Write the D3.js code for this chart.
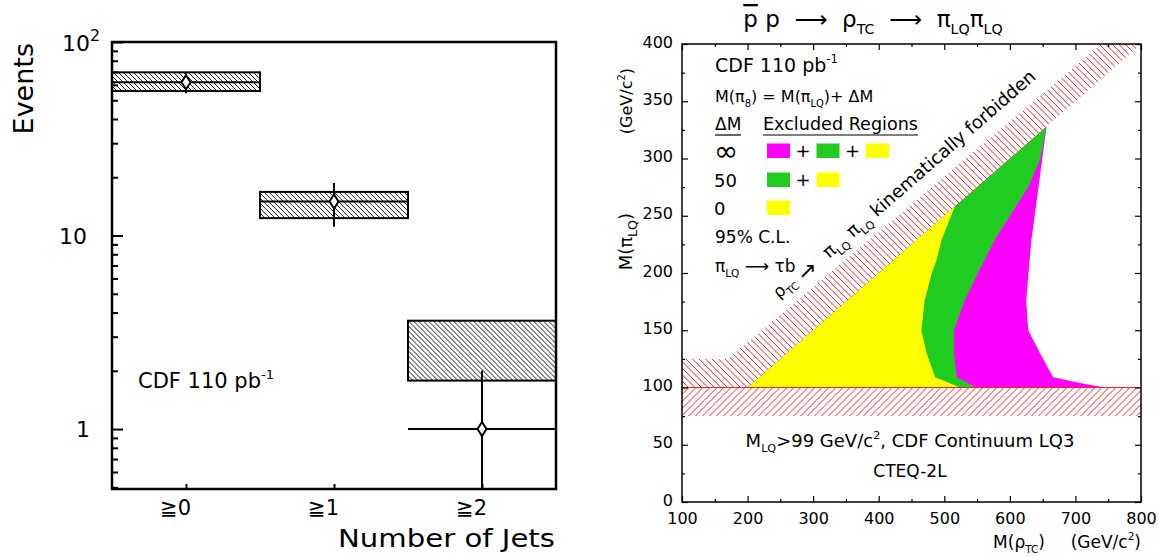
<!DOCTYPE html>
<html lang="en">
<head>
<meta charset="utf-8">
<title>CDF jets and technicolor exclusion</title>
<script src="https://d3js.org/d3.v7.min.js"></script>
<style>
  body { margin: 0; background: #fff; }
  svg text { font-family: "DejaVu Sans", "Noto Sans", sans-serif; fill: #000; white-space: pre; }
</style>
</head>
<body>
<script>
// ---- left panel data: events vs number of jets ----
var jetLabels = ["≧0", "≧1", "≧2"];
var predLow  = [55.8, 12.3, 1.78];   // hatched band (expectation)
var predHigh = [69.7, 16.8, 3.63];
var dataVal  = [62, 15, 1];          // observed points
var dataLow  = [54.3, 11.1, 0.3];
var dataHigh = [69, 18.7, 2.0];

// ---- right panel data: excluded regions in M(rho_TC) vs M(pi_LQ) ----
var magentaX = [200, 656, 633, 630, 625, 628, 646, 666, 707, 745];
var magentaY = [100, 328, 229, 211, 176, 150, 130, 109, 104, 100];
var greenX = [200, 656, 646, 628, 577, 554, 531, 515, 515, 519, 549];
var greenY = [100, 328, 299, 275, 229, 203, 176, 150, 130, 109, 100];
var yellowX = [200, 516, 496, 488, 481, 470, 465, 473, 486, 524];
var yellowY = [100, 258, 229, 211, 200, 176, 150, 130, 109, 100];
var forbidX = [100, 200, 800, 740, 170, 100];
var forbidY = [100, 100, 400, 400, 125, 125];
var bandX = [100, 800, 800, 100];
var bandY = [75, 75, 100, 100];
var lqLimit = 100;

var svg = d3.select("body").append("svg")
  .attr("width", 1159).attr("height", 556);

// rich text with sub/superscripts
function rich(parent, x, y, parts, size) {
  var t = parent.append("text").attr("x", x).attr("y", y).attr("font-size", size);
  var off = 0;
  parts.forEach(function(p) {
    var q = typeof p === "string" ? {t: p} : p;
    var target = q.sub ? size * 0.3 : q.sup ? -size * 0.45 : 0;
    var ts = t.append("tspan").attr("dy", target - off).text(q.t);
    off = target;
    if (q.sub || q.sup) ts.attr("font-size", size * (q.scale || 0.62));
    if (q.over) ts.style("text-decoration", "overline");
  });
  return t;
}

// hatch a polygon (pixel points) with straight lines, clipped to it
var hatchCount = 0;
function hatchPoly(parent, points, step, dir, color, width) {
  var id = "hatch" + (hatchCount++);
  parent.append("clipPath").attr("id", id).append("path")
    .attr("d", "M" + points.join("L") + "Z");
  var xs = points.map(function(p) { return p[0]; }), ys = points.map(function(p) { return p[1]; });
  var x0 = d3.min(xs), x1 = d3.max(xs), y0 = d3.min(ys), y1 = d3.max(ys), h = y1 - y0;
  var g = parent.append("g").attr("clip-path", "url(#" + id + ")");
  g.selectAll("line").data(d3.range(x0 - h, x1 + step, step)).join("line")
    .attr("x1", function(d) { return d; })
    .attr("x2", function(d) { return d + h; })
    .attr("y1", dir === "back" ? y0 : y1)
    .attr("y2", dir === "back" ? y1 : y0)
    .attr("stroke", color).attr("stroke-width", width);
  return g;
}

// ================= LEFT PANEL =================
var xL = d3.scaleLinear().domain([-0.5, 2.5]).range([112, 556]);
var yL = d3.scaleLog().domain([0.49, 100]).range([489, 42]);

svg.append("clipPath").attr("id", "clipL").append("rect")
  .attr("x", 112).attr("y", 42).attr("width", 444).attr("height", 447);

var gL = svg.append("g").attr("clip-path", "url(#clipL)");
jetLabels.forEach(function(lab, i) {
  var bx0 = xL(i - 0.5), bx1 = xL(i + 0.5), by0 = yL(predHigh[i]), by1 = yL(predLow[i]);
  hatchPoly(gL, [[bx0, by0], [bx1, by0], [bx1, by1], [bx0, by1]], 5, "back", "#000", 0.9);
  gL.append("rect")
    .attr("x", bx0).attr("width", bx1 - bx0)
    .attr("y", by0).attr("height", by1 - by0)
    .attr("fill", "none").attr("stroke", "#000").attr("stroke-width", 2);
  gL.append("line")
    .attr("x1", bx0).attr("x2", bx1)
    .attr("y1", yL(dataVal[i])).attr("y2", yL(dataVal[i]))
    .attr("stroke", "#000").attr("stroke-width", 2);
  gL.append("line")
    .attr("x1", xL(i)).attr("x2", xL(i))
    .attr("y1", yL(dataLow[i])).attr("y2", yL(dataHigh[i]))
    .attr("stroke", "#000").attr("stroke-width", 2);
  var cx = xL(i), cy = yL(dataVal[i]);
  gL.append("path")
    .attr("d", "M" + cx + "," + (cy - 7) + "L" + (cx + 4.5) + "," + cy + "L" + cx + "," + (cy + 7) + "L" + (cx - 4.5) + "," + cy + "Z")
    .attr("fill", "#fff").attr("stroke", "#000").attr("stroke-width", 2);
});

// left axis ticks (log)
var allTicks = yL.ticks();
var majors = allTicks.filter(function(v) { return Math.abs(Math.log10(v) - Math.round(Math.log10(v))) < 1e-9; });
var minors = allTicks.filter(function(v) { return majors.indexOf(v) < 0; });
svg.append("g").attr("transform", "translate(112,0)")
  .call(d3.axisRight(yL).tickValues(minors).tickSize(6).tickFormat(""))
  .call(function(g) { g.select(".domain").remove(); g.selectAll("line").attr("stroke-width", 2); });
svg.append("g").attr("transform", "translate(112,0)")
  .call(d3.axisRight(yL).tickValues(majors).tickSize(11).tickFormat(""))
  .call(function(g) { g.select(".domain").remove(); g.selectAll("line").attr("stroke-width", 2); });

// bottom category ticks
svg.append("g").attr("transform", "translate(0,489)")
  .call(d3.axisTop(xL).tickValues([0, 1, 2]).tickSize(5).tickFormat(""))
  .call(function(g) { g.select(".domain").remove(); g.selectAll("line").attr("stroke-width", 2); });

svg.append("rect").attr("x", 112).attr("y", 42).attr("width", 444).attr("height", 447)
  .attr("fill", "none").attr("stroke", "#000").attr("stroke-width", 2.5);

// left labels
rich(svg, 100, yL(100) + 9, ["10", {t: "2", sup: true, scale: 0.72}], 22).attr("text-anchor", "end");
svg.append("text").attr("x", 87).attr("y", yL(10) + 8).attr("font-size", 22).attr("text-anchor", "end").text("10");
svg.append("text").attr("x", 90).attr("y", yL(1) + 8).attr("font-size", 22).attr("text-anchor", "end").text("1");

jetLabels.forEach(function(lab, i) {
  svg.append("text").attr("x", xL(i) + 5).attr("y", 515).attr("font-size", 21)
    .attr("text-anchor", "end").text(lab);
});

svg.append("text").attr("transform", "translate(33,43) rotate(-90)")
  .attr("text-anchor", "end").attr("font-size", 27).text("Events");
svg.append("text").attr("x", 555).attr("y", 547).attr("font-size", 24)
  .attr("text-anchor", "end").attr("textLength", 217).attr("lengthAdjust", "spacingAndGlyphs")
  .text("Number of Jets");
rich(svg, 138, 388, ["CDF 110 pb", {t: "-1", sup: true}], 21);

// ================= RIGHT PANEL =================
var xR = d3.scaleLinear().domain([100, 800]).range([682, 1141]);
var yR = d3.scaleLinear().domain([0, 400]).range([502, 44]);

svg.append("clipPath").attr("id", "clipR").append("rect")
  .attr("x", 682).attr("y", 44).attr("width", 459).attr("height", 458);

var line = d3.line().x(function(d) { return xR(d[0]); }).y(function(d) { return yR(d[1]); });
function pts(xs, ys) { return xs.map(function(x, i) { return [x, ys[i]]; }); }
function px(xs, ys) { return xs.map(function(x, i) { return [xR(x), yR(ys[i])]; }); }

var gR = svg.append("g").attr("clip-path", "url(#clipR)");
gR.append("path").attr("d", line(pts(magentaX, magentaY)) + "Z").attr("fill", "#ff00ff");
gR.append("path").attr("d", line(pts(greenX, greenY)) + "Z").attr("fill", "#21cc21");
gR.append("path").attr("d", line(pts(yellowX, yellowY)) + "Z").attr("fill", "#ffff00");
hatchPoly(gR, px(forbidX, forbidY), 6.5, "back", "#ff2020", 1);
hatchPoly(gR, px(bandX, bandY), 7, "fwd", "#ff2020", 1);
gR.append("line").attr("x1", xR(100)).attr("x2", xR(800))
  .attr("y1", yR(lqLimit)).attr("y2", yR(lqLimit))
  .attr("stroke", "#ff2020").attr("stroke-width", 1.2);

// axes
function tidy(g) {
  g.select(".domain").remove();
  g.selectAll("line").attr("stroke-width", 1.2);
  g.selectAll("text").attr("font-family", null).attr("font-size", 16);
}
svg.append("g").attr("transform", "translate(682,-2)")
  .call(d3.axisLeft(yR).tickValues(d3.range(0, 401, 50)).tickSize(0).tickPadding(9).tickFormat(d3.format("d")))
  .call(tidy);
svg.append("g").attr("transform", "translate(682,0)")
  .call(d3.axisLeft(yR).tickValues(d3.range(0, 401, 50)).tickSize(-6).tickFormat(""))
  .call(tidy);
svg.append("g").attr("transform", "translate(682,0)")
  .call(d3.axisLeft(yR).tickValues(d3.range(25, 400, 50)).tickSize(-3).tickFormat(""))
  .call(tidy);
svg.append("g").attr("transform", "translate(1141,0)")
  .call(d3.axisRight(yR).tickValues(d3.range(0, 401, 50)).tickSize(-6).tickFormat(""))
  .call(tidy);
svg.append("g").attr("transform", "translate(1141,0)")
  .call(d3.axisRight(yR).tickValues(d3.range(25, 400, 50)).tickSize(-3).tickFormat(""))
  .call(tidy);
svg.append("g").attr("transform", "translate(0,502)")
  .call(d3.axisBottom(xR).tickValues(d3.range(100, 801, 100)).tickSize(-6).tickPadding(11).tickFormat(d3.format("d")))
  .call(tidy);
svg.append("g").attr("transform", "translate(0,502)")
  .call(d3.axisBottom(xR).tickValues(d3.range(150, 800, 100)).tickSize(-3).tickFormat(""))
  .call(tidy);
svg.append("g").attr("transform", "translate(0,44)")
  .call(d3.axisTop(xR).tickValues(d3.range(100, 801, 100)).tickSize(-6).tickFormat(""))
  .call(tidy);
svg.append("g").attr("transform", "translate(0,44)")
  .call(d3.axisTop(xR).tickValues(d3.range(150, 800, 100)).tickSize(-3).tickFormat(""))
  .call(tidy);

svg.append("rect").attr("x", 682).attr("y", 44).attr("width", 459).attr("height", 458)
  .attr("fill", "none").attr("stroke", "#000").attr("stroke-width", 1.5);

// title
rich(svg, 873, 27, [{t: "p", over: true}, " p  ⟶  ρ", {t: "TC", sub: true}, "  ⟶  π", {t: "LQ", sub: true}, "π", {t: "LQ", sub: true}], 23)
  .attr("text-anchor", "middle");

// axis titles
rich(svg, 0, 0, ["(GeV/c", {t: "2", sup: true}, ")"], 16)
  .attr("transform", "translate(632,68) rotate(-90)").attr("text-anchor", "end");
rich(svg, 0, 0, ["M(π", {t: "LQ", sub: true, scale: 0.7}, ")"], 18)
  .attr("transform", "translate(632,213) rotate(-90)").attr("text-anchor", "end");
rich(svg, 1141, 548, ["(GeV/c", {t: "2", sup: true}, ")"], 17)
  .attr("text-anchor", "end");
rich(svg, 1045, 548, ["M(ρ", {t: "TC", sub: true}, ")"], 17)
  .attr("text-anchor", "end");

// legend block
rich(svg, 715, 72, ["CDF 110 pb", {t: "-1", sup: true}], 19);
rich(svg, 715, 102, ["M(π", {t: "8", sub: true}, ") = M(π", {t: "LQ", sub: true}, ")+ ΔM"], 16);
svg.append("text").attr("x", 715).attr("y", 130).attr("font-size", 17).text("ΔM");
svg.append("text").attr("x", 763).attr("y", 130).attr("font-size", 17)
  .attr("textLength", 155).attr("lengthAdjust", "spacingAndGlyphs").text("Excluded Regions");
svg.append("line").attr("x1", 715).attr("x2", 741).attr("y1", 135).attr("y2", 135).attr("stroke", "#000").attr("stroke-width", 1.2);
svg.append("line").attr("x1", 763).attr("x2", 918).attr("y1", 135).attr("y2", 135).attr("stroke", "#000").attr("stroke-width", 1.2);

var legendRows = [
  {label: "∞", y: 158, colors: ["#ff00ff", "#21cc21", "#ffff00"], size: 29},
  {label: "50", y: 187, colors: ["#21cc21", "#ffff00"], size: 18},
  {label: "0", y: 215, colors: ["#ffff00"], size: 18}
];
legendRows.forEach(function(r) {
  svg.append("text").attr("x", 714).attr("y", r.y + (r.label === "∞" ? 3 : 0)).attr("font-size", r.size).text(r.label);
  r.colors.forEach(function(c, j) {
    var x0 = 767 + j * 49.5;
    svg.append("rect").attr("x", x0).attr("y", r.y - 14.5).attr("width", 23).attr("height", 14.5).attr("fill", c);
    if (j > 0) svg.append("text").attr("x", x0 - 13.5).attr("y", r.y - 1).attr("font-size", 18)
      .attr("text-anchor", "middle").text("+");
  });
});
svg.append("text").attr("x", 715).attr("y", 243).attr("font-size", 17).text("95% C.L.");
rich(svg, 715, 272, ["π", {t: "LQ", sub: true}, " ⟶ τb"], 17);
svg.append("text").attr("x", 798).attr("y", 278).attr("font-size", 22).text("↗");

rich(svg, 0, 0, ["ρ", {t: "TC", sub: true}], 17)
  .attr("transform", "translate(779,299) rotate(-42)");
rich(svg, 0, 0, ["π", {t: "LQ", sub: true}, " π", {t: "LQ", sub: true}, " kinematically forbidden"], 18)
  .attr("transform", "translate(829,259) rotate(-41)");

rich(svg, 910, 447, ["M", {t: "LQ", sub: true}, ">99 GeV/c", {t: "2", sup: true}, ", CDF Continuum LQ3"], 18)
  .attr("text-anchor", "middle");
svg.append("text").attr("x", 910).attr("y", 477).attr("font-size", 17)
  .attr("text-anchor", "middle").text("CTEQ-2L");
</script>
</body>
</html>
